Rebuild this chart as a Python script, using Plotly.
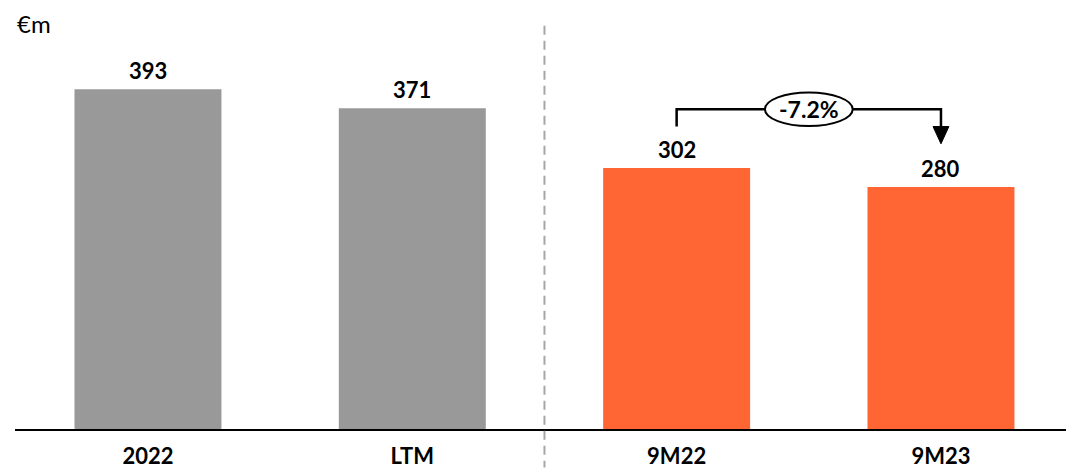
import plotly.graph_objects as go

# Revenue by period (€m)
categories = ["2022", "LTM", "9M22", "9M23"]
values = [393, 371, 302, 280]
bar_colors = ["#999999", "#999999", "#FF6633", "#FF6633"]
change_label = "-7.2%"

FONT = "Lato, 'Liberation Sans', Arial, sans-serif"
x_idx = list(range(len(categories)))

fig = go.Figure()
fig.add_trace(go.Bar(
    x=x_idx,
    y=values,
    marker=dict(color=bar_colors, line=dict(width=0)),
    width=0.556,
    hoverinfo="skip",
))

# Value labels above the bars
for xi, v in zip(x_idx, values):
    fig.add_annotation(
        x=xi, y=v, text=f"<b>{v}</b>", showarrow=False,
        yanchor="bottom", yshift=3,
        font=dict(family=FONT, size=22, color="#000000", weight=900),
    )

# Bracket comparing 9M22 with 9M23
i0, i1 = 2, 3
bracket_y = max(values[i0], values[i1]) + 68
left_bottom = values[i0] + 48
arrow_base = values[i1] + 70
arrow_tip = values[i1] + 50
mid = (i0 + i1) / 2
line_style = dict(color="#000000", width=2.5)

fig.add_shape(type="path",
              path=f"M {i0} {left_bottom} L {i0} {bracket_y} L {i1} {bracket_y} L {i1} {arrow_base}",
              line=line_style, layer="above")
fig.add_shape(type="path",
              path=f"M {i1 - 0.03} {arrow_base} L {i1 + 0.03} {arrow_base} L {i1} {arrow_tip} Z",
              fillcolor="#000000", line=dict(color="#000000", width=1), layer="above")
fig.add_shape(type="circle", x0=mid - 0.166, x1=mid + 0.166,
              y0=bracket_y - 19.5, y1=bracket_y + 19.5,
              fillcolor="#FFFFFF", line=dict(color="#000000", width=2), layer="above")
fig.add_annotation(x=mid, y=bracket_y, text=f"<b>{change_label}</b>", showarrow=False,
                   font=dict(family=FONT, size=23, color="#000000", weight=900))

# Dashed divider between full-year and nine-month figures
fig.add_shape(type="line", xref="x", yref="paper", x0=1.5, x1=1.5, y0=0.94, y1=-0.09,
              line=dict(color="#A6A6A6", width=2, dash="9px,6px"), layer="above")

# Unit label
fig.add_annotation(xref="paper", yref="paper", x=0, y=1, xanchor="left", yanchor="top",
                   yshift=-7, text="€m", showarrow=False,
                   font=dict(family=FONT, size=24, color="#000000"))

fig.update_layout(
    width=1066, height=469,
    margin=dict(l=15, r=0, t=0, b=37),
    paper_bgcolor="#FFFFFF", plot_bgcolor="#FFFFFF",
    showlegend=False,
    xaxis=dict(
        range=[-0.503, 3.473],
        tickmode="array", tickvals=x_idx,
        ticktext=[f"<b>{c}</b>" for c in categories],
        tickfont=dict(family=FONT, size=22, color="#000000", weight=900),
        showline=True, linecolor="#000000", linewidth=2,
        showgrid=False, zeroline=False, ticks="",
        ticklabelstandoff=7,
    ),
    yaxis=dict(range=[0, 496.4], visible=False, showgrid=False, zeroline=False),
)

fig.write_html("out.html")
